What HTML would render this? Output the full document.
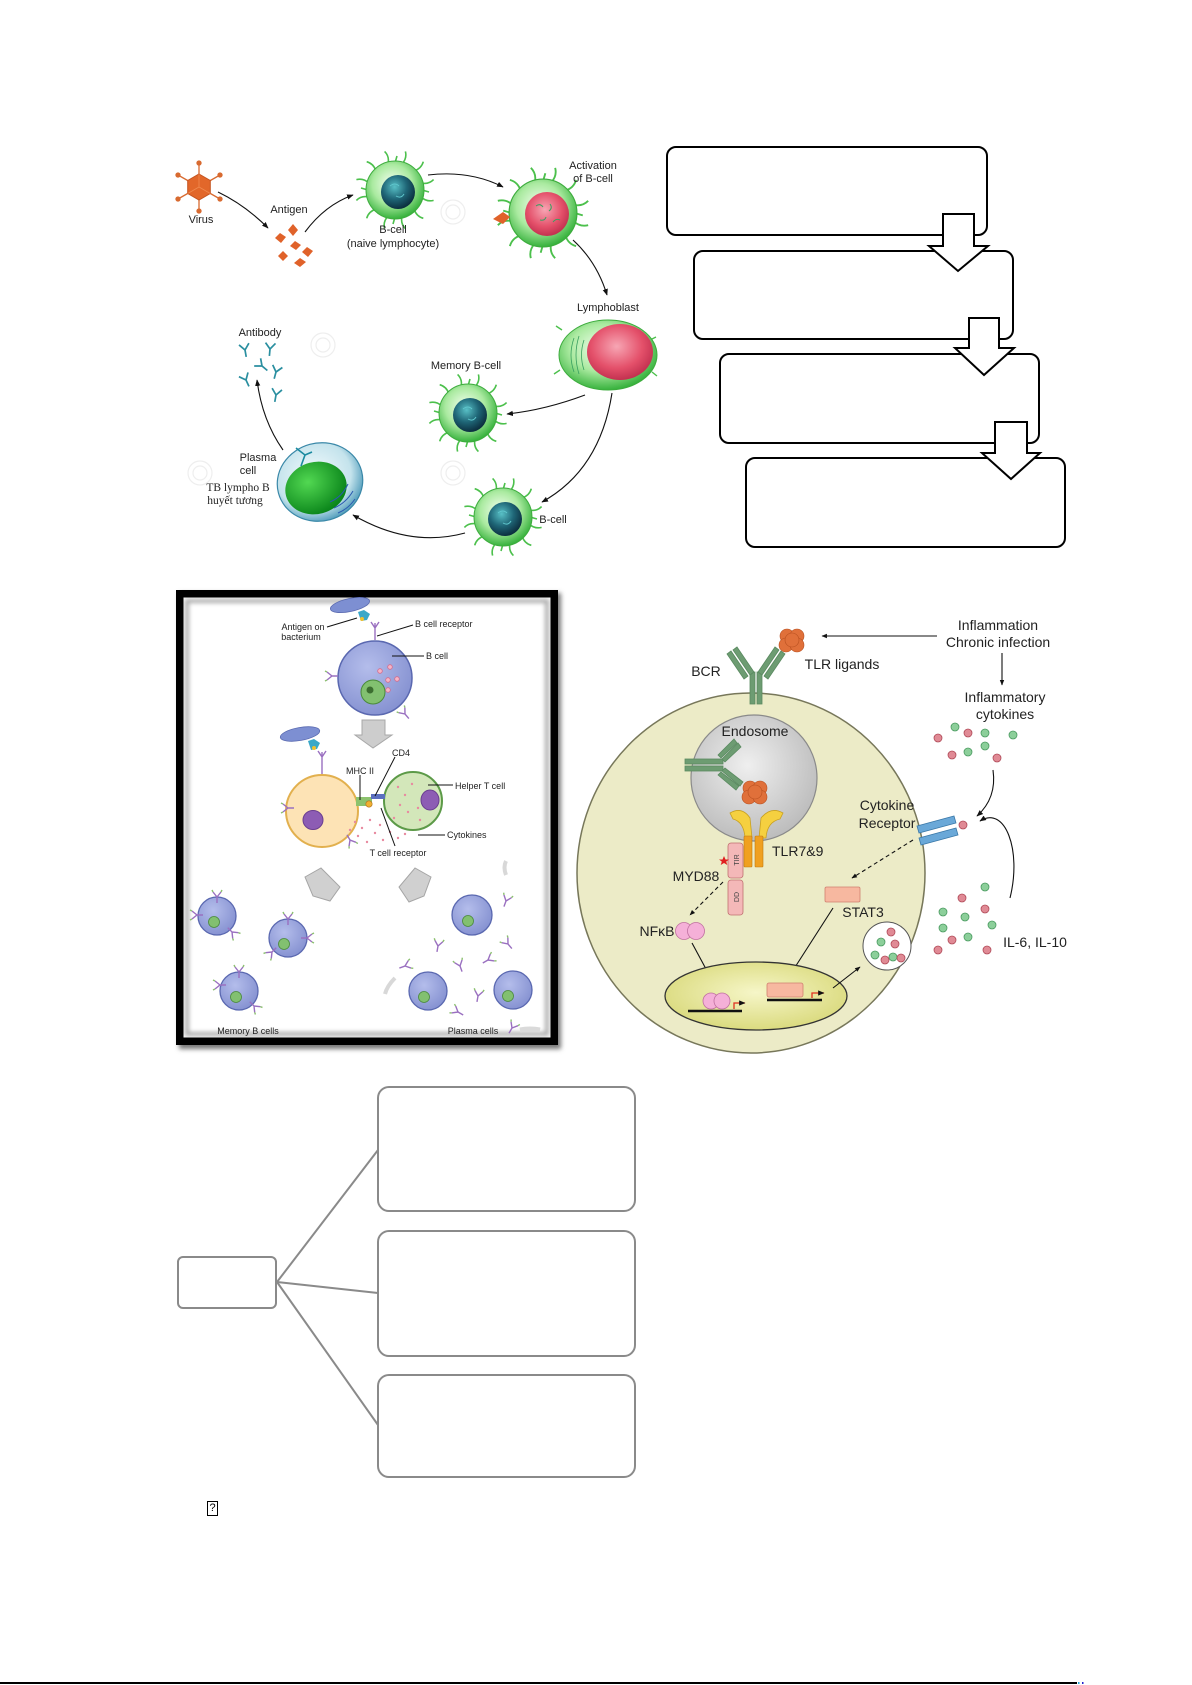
<!DOCTYPE html>
<html>
<head>
<meta charset="utf-8">
<style>
  html,body{margin:0;padding:0;background:#fff;}
  body{width:1192px;height:1685px;position:relative;overflow:hidden;}
  svg{position:absolute;left:0;top:0;}
  .lb{font-family:"Liberation Sans",Arial,sans-serif;font-size:11px;fill:#222;}
  .sf{font-family:"Liberation Serif","Times New Roman",serif;font-size:11.5px;fill:#222;}
  .ml{font-family:"Liberation Sans",Arial,sans-serif;font-size:9px;fill:#222;}
  .rl{font-family:"Liberation Sans",Arial,sans-serif;font-size:14px;fill:#222;}
  .qm{position:absolute;left:207px;top:1501px;width:9px;height:13px;border:1px solid #000;font-family:"Liberation Sans",Arial,sans-serif;font-size:11px;line-height:13px;text-align:center;color:#000;}
</style>
</head>
<body>
<svg width="1192" height="1685" viewBox="0 0 1192 1685" xmlns="http://www.w3.org/2000/svg">
<defs>
  <radialGradient id="gc" cx="45%" cy="40%" r="62%">
    <stop offset="0" stop-color="#f6fff2"/>
    <stop offset="0.55" stop-color="#aaeaa0"/>
    <stop offset="1" stop-color="#2fae36"/>
  </radialGradient>
  <radialGradient id="nuc" cx="40%" cy="35%" r="65%">
    <stop offset="0" stop-color="#58c0c6"/>
    <stop offset="0.55" stop-color="#1f6677"/>
    <stop offset="1" stop-color="#0c3040"/>
  </radialGradient>
  <radialGradient id="red" cx="45%" cy="40%" r="65%">
    <stop offset="0" stop-color="#f7a6b4"/>
    <stop offset="0.6" stop-color="#e4506a"/>
    <stop offset="1" stop-color="#bb2a4a"/>
  </radialGradient>
  <radialGradient id="pl" cx="45%" cy="40%" r="62%">
    <stop offset="0" stop-color="#f4fbfd"/>
    <stop offset="0.7" stop-color="#c4e3ec"/>
    <stop offset="1" stop-color="#4a98b8"/>
  </radialGradient>
  <radialGradient id="gn" cx="40%" cy="35%" r="65%">
    <stop offset="0" stop-color="#52d852"/>
    <stop offset="1" stop-color="#0b861b"/>
  </radialGradient>
  <radialGradient id="bc" cx="40%" cy="35%" r="65%">
    <stop offset="0" stop-color="#b4bdeb"/>
    <stop offset="1" stop-color="#8793d2"/>
  </radialGradient>
  <radialGradient id="endo" cx="45%" cy="40%" r="60%">
    <stop offset="0" stop-color="#efefef"/>
    <stop offset="1" stop-color="#bdbdbd"/>
  </radialGradient>
  <radialGradient id="nucl" cx="50%" cy="45%" r="60%">
    <stop offset="0" stop-color="#f6f6c8"/>
    <stop offset="1" stop-color="#d8d878"/>
  </radialGradient>
  <filter id="blur3" x="-10%" y="-10%" width="120%" height="120%"><feGaussianBlur stdDeviation="2.5"/></filter>
  <filter id="blur2" x="-10%" y="-10%" width="120%" height="120%"><feGaussianBlur stdDeviation="2"/></filter>
  <marker id="ah" viewBox="0 0 10 10" refX="9" refY="5" markerWidth="6" markerHeight="6" orient="auto">
    <path d="M0,1 L10,5 L0,9 z" fill="#111"/>
  </marker>
  <marker id="ah2" viewBox="0 0 10 10" refX="9" refY="5" markerWidth="5" markerHeight="5" orient="auto">
    <path d="M0,1 L10,5 L0,9 z" fill="#111"/>
  </marker>
  <g id="spk">
    <path d="M26.1,7 Q31.7,12.2 38.6,10.4 M19.1,19.1 Q21.4,26.4 28.3,28.3 M7,26.1 Q5.3,33.6 10.4,38.6 M-7,26.1 Q-12.2,31.7 -10.4,38.6 M-19.1,19.1 Q-26.4,21.4 -28.3,28.3 M-26.1,7 Q-33.6,5.3 -38.6,10.4 M-26.1,-7 Q-31.7,-12.2 -38.6,-10.4 M-19.1,-19.1 Q-21.4,-26.4 -28.3,-28.3 M-7,-26.1 Q-5.3,-33.6 -10.4,-38.6 M7,-26.1 Q12.2,-31.7 10.4,-38.6 M19.1,-19.1 Q26.4,-21.4 28.3,-28.3 M26.1,-7 Q33.6,-5.3 38.6,-10.4 M27,0 L34,2 M0,27 L-2,34 M-27,0 L-34,-2 M0,-27 L2,-34" stroke="#4cc04c" stroke-width="1.6" fill="none"/>
    <circle r="29" fill="url(#gc)" stroke="#3dac3d" stroke-width="1"/>
  </g>
  <g id="ysm">
    <path d="M0,6 L0,0 L-4,-5 M0,0 L4,-5" stroke="#9a70c0" stroke-width="1.4" fill="none"/>
    <path d="M-4,-5 L-5,-7 M4,-5 L5,-7" stroke="#8cc070" stroke-width="1.4" fill="none"/>
  </g>
  <g id="ab">
    <path d="M0,7 L0,0 L-5,-6 M0,0 L5,-6" stroke="#2a8fa0" stroke-width="1.7" fill="none"/>
  </g>
</defs>

<!-- ================= TOP LEFT ILLUSTRATION ================= -->
<!-- faint watermarks -->
<g stroke="#eeeeee" stroke-width="1.2" fill="none">
  <circle cx="200" cy="473" r="12"/><circle cx="200" cy="473" r="7"/>
  <circle cx="323" cy="345" r="12"/><circle cx="323" cy="345" r="7"/>
  <circle cx="453" cy="212" r="12"/><circle cx="453" cy="212" r="7"/>
  <circle cx="453" cy="473" r="12"/><circle cx="453" cy="473" r="7"/>
</g>

<!-- virus -->
<g stroke="#d86a30" stroke-width="1.3" fill="#d86a30">
  <line x1="199" y1="187" x2="199" y2="163"/>
  <line x1="199" y1="187" x2="220" y2="175"/>
  <line x1="199" y1="187" x2="220" y2="199"/>
  <line x1="199" y1="187" x2="199" y2="211"/>
  <line x1="199" y1="187" x2="178" y2="199"/>
  <line x1="199" y1="187" x2="178" y2="175"/>
  <circle cx="199" cy="163" r="2"/><circle cx="220" cy="175" r="2"/><circle cx="220" cy="199" r="2"/>
  <circle cx="199" cy="211" r="2"/><circle cx="178" cy="199" r="2"/><circle cx="178" cy="175" r="2"/>
</g>
<polygon points="199,174 210.3,180.5 210.3,193.5 199,200 187.7,193.5 187.7,180.5" fill="#e2672a" stroke="#c55420" stroke-width="1"/>
<path d="M199,174 L199,187 L210.3,193.5 M199,187 L187.7,193.5" stroke="#f08a50" stroke-width="0.8" fill="none"/>
<text class="lb" x="201" y="223" text-anchor="middle">Virus</text>

<!-- antigen diamonds -->
<g fill="#e0622a">
  <polygon points="293,224 298,230 293,236 288,230"/>
  <polygon points="280,233 286,237 281,243 275,238"/>
  <polygon points="295,241 301,245 296,250 290,246"/>
  <polygon points="307,247 313,251 308,257 302,252"/>
  <polygon points="283,251 288,256 283,261 278,256"/>
  <polygon points="300,258 306,262 300,267 294,263"/>
</g>
<text class="lb" x="289" y="213" text-anchor="middle">Antigen</text>

<!-- arrows top illustration -->
<g stroke="#111" stroke-width="1.1" fill="none" marker-end="url(#ah)">
  <path d="M218,192 Q245,205 268,228"/>
  <path d="M305,232 Q325,205 353,195"/>
  <path d="M428,175 Q470,170 503,187"/>
  <path d="M573,240 Q597,262 607,295"/>
  <path d="M585,395 Q545,410 507,414"/>
  <path d="M612,393 Q600,470 542,502"/>
  <path d="M465,533 Q410,548 353,515"/>
  <path d="M283,450 Q262,420 257,380"/>
</g>

<!-- naive B-cell -->
<use href="#spk" transform="translate(395,190)"/>
<circle cx="398" cy="192" r="17" fill="url(#nuc)"/>
<path d="M390,186 q5,-4 9,0 M396,196 q5,3 8,-2" stroke="#5fc6cc" stroke-width="1" fill="none"/>
<text class="lb" x="393" y="233" text-anchor="middle">B-cell</text>
<text class="lb" x="393" y="247" text-anchor="middle">(naive lymphocyte)</text>

<!-- activated B-cell -->
<use href="#spk" transform="translate(543,213) scale(1.17)"/>
<circle cx="547" cy="214" r="22" fill="url(#red)"/>
<path d="M536,206 q4,-3 7,1 M550,204 q3,4 -1,7 M540,220 q5,1 6,-3 M553,222 q3,-4 7,-2" stroke="#3aa060" stroke-width="1" fill="none"/>
<polygon points="493,219 503,212 510,217 503,224" fill="#e0622a"/>
<text class="lb" x="593" y="169" text-anchor="middle">Activation</text>
<text class="lb" x="593" y="182" text-anchor="middle">of B-cell</text>

<!-- lymphoblast -->
<g stroke="#4cc04c" stroke-width="1.4" fill="none">
  <path d="M562,330 l-6,-4 M560,370 l-6,4 M650,340 l6,-3 M652,372 l5,4"/>
</g>
<ellipse cx="608" cy="355" rx="49" ry="35" fill="url(#gc)" stroke="#3dac3d" stroke-width="1"/>
<ellipse cx="620" cy="352" rx="33" ry="28" fill="url(#red)"/>
<path d="M574,338 q-6,17 0,34 M579,336 q-6,19 0,38 M584,340 q-5,15 0,30" stroke="#3aa060" stroke-width="0.8" fill="none"/>
<text class="lb" x="608" y="311" text-anchor="middle">Lymphoblast</text>

<!-- memory B-cell -->
<use href="#spk" transform="translate(468,413)"/>
<circle cx="470" cy="415" r="17" fill="url(#nuc)"/>
<path d="M463,409 q5,-4 9,0 M468,419 q5,3 8,-2" stroke="#5fc6cc" stroke-width="1" fill="none"/>
<text class="lb" x="466" y="369" text-anchor="middle">Memory B-cell</text>

<!-- bottom B-cell -->
<use href="#spk" transform="translate(503,517)"/>
<circle cx="505" cy="519" r="17" fill="url(#nuc)"/>
<path d="M498,513 q5,-4 9,0 M503,523 q5,3 8,-2" stroke="#5fc6cc" stroke-width="1" fill="none"/>
<text class="lb" x="553" y="523" text-anchor="middle">B-cell</text>

<!-- plasma cell -->
<ellipse cx="320" cy="482" rx="43" ry="39" fill="url(#pl)" stroke="#3a88a8" stroke-width="1.2" transform="rotate(-15 320 482)"/>
<ellipse cx="316" cy="488" rx="31" ry="26" fill="url(#gn)" transform="rotate(-15 316 488)"/>
<path d="M330,502 q12,-5 18,-18 M334,508 q12,-5 19,-17 M338,513 q10,-4 17,-14" stroke="#2a5ab0" stroke-width="1" fill="none"/>
<path d="M296,448 L305,455 L301,466 M305,455 L312,452" stroke="#1a8aa0" stroke-width="1.6" fill="none"/>
<text class="lb" x="258" y="461" text-anchor="middle">Plasma</text>
<text class="lb" x="248" y="474" text-anchor="middle">cell</text>
<text class="sf" x="238" y="491" text-anchor="middle">TB lympho B</text>
<text class="sf" x="235" y="504" text-anchor="middle">huyết tương</text>

<!-- antibodies -->
<use href="#ab" transform="translate(245,350) rotate(-10)"/>
<use href="#ab" transform="translate(270,349) rotate(5)"/>
<use href="#ab" transform="translate(262,366) rotate(-50)"/>
<use href="#ab" transform="translate(276,372) rotate(15)"/>
<use href="#ab" transform="translate(246,380) rotate(-25)"/>
<use href="#ab" transform="translate(276,395) rotate(10)"/>
<text class="lb" x="260" y="336" text-anchor="middle">Antibody</text>

<!-- ================= TOP RIGHT FLOW BOXES ================= -->
<g fill="#fff" stroke="#000" stroke-width="2">
  <rect x="667" y="147" width="320" height="88" rx="9"/>
  <rect x="694" y="251" width="319" height="88" rx="9"/>
  <rect x="720" y="354" width="319" height="89" rx="9"/>
  <rect x="746" y="458" width="319" height="89" rx="9"/>
  <polygon points="943,214 974,214 974,246 988,246 958,271 929,246 943,246"/>
  <polygon points="969,318 999,318 999,348 1014,348 984,375 955,348 969,348"/>
  <polygon points="995,422 1027,422 1027,453 1040,453 1011,479 982,453 995,453"/>
</g>

<!-- ================= MIDDLE LEFT FRAMED PANEL ================= -->
<rect x="179" y="593" width="382" height="456" fill="#777" filter="url(#blur3)"/>
<rect x="179.75" y="593.75" width="374.5" height="447.5" fill="#fff"/>
<rect x="187" y="601" width="360" height="433" fill="none" stroke="#aaa" stroke-width="4" filter="url(#blur2)"/>
<rect x="179.75" y="593.75" width="374.5" height="447.5" fill="none" stroke="#000" stroke-width="7.5"/>

<!-- bacterium 1 -->
<ellipse cx="350" cy="605" rx="20" ry="6.5" fill="#7d8fd2" stroke="#5a6ab0" stroke-width="0.8" transform="rotate(-12 350 605)"/>
<path d="M358,612 l6,-2 l6,4 l-3,6 l-6,1 z" fill="#3aa8c8"/>
<circle cx="362" cy="619" r="2" fill="#f0c030"/>
<path d="M375,623 L375,640 M375,628 l-4,-6 M375,628 l4,-6" stroke="#9a70c0" stroke-width="1.4" fill="none"/>
<line x1="327" y1="627" x2="357" y2="618" stroke="#111" stroke-width="1"/>
<line x1="377" y1="636" x2="413" y2="625" stroke="#111" stroke-width="1"/>
<text class="ml" x="303" y="630" text-anchor="middle">Antigen on</text>
<text class="ml" x="301" y="640" text-anchor="middle">bacterium</text>
<text class="ml" x="415" y="627">B cell receptor</text>

<!-- B cell -->
<circle cx="375" cy="678" r="37" fill="url(#bc)" stroke="#5a68b0" stroke-width="1.5"/>
<circle cx="373" cy="692" r="12" fill="#82c070" stroke="#4a8a3a" stroke-width="1"/>
<circle cx="370" cy="690" r="3.5" fill="#3c6e30"/>
<g fill="#f4b6c8" stroke="#d66a8a" stroke-width="0.8">
  <circle cx="380" cy="671" r="2.3"/><circle cx="390" cy="667" r="2.3"/><circle cx="388" cy="680" r="2.3"/>
  <circle cx="397" cy="679" r="2.3"/><circle cx="388" cy="690" r="2.3"/>
</g>
<use href="#ysm" transform="translate(332,676) rotate(-90)"/>
<use href="#ysm" transform="translate(405,714) rotate(-40)"/>
<line x1="392" y1="656" x2="424" y2="656" stroke="#111" stroke-width="1"/>
<text class="ml" x="426" y="659">B cell</text>

<!-- gray down arrow -->
<polygon points="362,720 385,720 385,735 392,735 373,748 355,735 362,735" fill="#cdcdcd" stroke="#a8a8a8" stroke-width="1"/>

<!-- bacterium 2 -->
<ellipse cx="300" cy="734" rx="20" ry="6.5" fill="#7d8fd2" stroke="#5a6ab0" stroke-width="0.8" transform="rotate(-10 300 734)"/>
<path d="M308,741 l6,-2 l6,4 l-3,6 l-6,1 z" fill="#3aa8c8"/>
<circle cx="314" cy="748" r="2" fill="#f0c030"/>
<path d="M322,752 L322,774 M322,757 l-4,-6 M322,757 l4,-6" stroke="#9a70c0" stroke-width="1.4" fill="none"/>

<!-- orange B cell & helper T -->
<circle cx="322" cy="811" r="36" fill="#fde3b5" stroke="#e2b04e" stroke-width="2"/>
<ellipse cx="313" cy="820" rx="10" ry="9.5" fill="#8d5cb4" stroke="#6a3e90" stroke-width="1"/>
<circle cx="413" cy="801" r="29" fill="#d3e7ba" stroke="#5c9a48" stroke-width="2"/>
<ellipse cx="430" cy="800" rx="9" ry="10" fill="#8d5cb4" stroke="#6a3e90" stroke-width="1"/>
<rect x="356" y="797" width="16" height="9" fill="#8cc26e"/>
<rect x="371" y="794" width="14" height="5" fill="#5b6fc0"/>
<circle cx="369" cy="804" r="3.2" fill="#f0b030" stroke="#b07020" stroke-width="0.6"/>
<use href="#ysm" transform="translate(288,808) rotate(-90)"/>
<use href="#ysm" transform="translate(350,840) rotate(150)"/>
<g fill="#e88aa0">
  <circle cx="398" cy="787" r="1.2"/><circle cx="405" cy="795" r="1.2"/><circle cx="412" cy="784" r="1.2"/>
  <circle cx="418" cy="808" r="1.2"/><circle cx="408" cy="812" r="1.2"/><circle cx="400" cy="805" r="1.2"/>
  <circle cx="394" cy="818" r="1.2"/><circle cx="420" cy="820" r="1.2"/>
  <circle cx="355" cy="822" r="1.2"/><circle cx="362" cy="828" r="1.2"/><circle cx="370" cy="820" r="1.2"/>
  <circle cx="358" cy="836" r="1.2"/><circle cx="367" cy="842" r="1.2"/><circle cx="375" cy="833" r="1.2"/>
  <circle cx="383" cy="840" r="1.2"/><circle cx="380" cy="825" r="1.2"/><circle cx="390" cy="832" r="1.2"/>
  <circle cx="350" cy="830" r="1.2"/><circle cx="398" cy="838" r="1.2"/><circle cx="405" cy="834" r="1.2"/>
</g>
<g stroke="#111" stroke-width="1" fill="none">
  <line x1="360" y1="775" x2="360" y2="800"/>
  <line x1="395" y1="757" x2="375" y2="796"/>
  <line x1="381" y1="808" x2="395" y2="846"/>
  <line x1="428" y1="785" x2="453" y2="785"/>
  <line x1="418" y1="835" x2="445" y2="835"/>
</g>
<text class="ml" x="401" y="756" text-anchor="middle">CD4</text>
<text class="ml" x="360" y="774" text-anchor="middle">MHC II</text>
<text class="ml" x="455" y="789">Helper T cell</text>
<text class="ml" x="447" y="838">Cytokines</text>
<text class="ml" x="398" y="856" text-anchor="middle">T cell receptor</text>

<!-- gray side arrows -->
<polygon points="305,877 321,868 340,887 330,901 313,896" fill="#d0d0d0" stroke="#a5a5a5" stroke-width="1"/>
<polygon points="431,877 415,868 399,887 409,902 424,896" fill="#d0d0d0" stroke="#a5a5a5" stroke-width="1"/>
<path d="M506,875 q-3,-8 0,-14" stroke="#d8d8d8" stroke-width="4" fill="none"/>
<path d="M395,978 q-8,8 -10,16" stroke="#d8d8d8" stroke-width="4" fill="none"/>
<path d="M520,1030 q10,-2 20,0" stroke="#dadada" stroke-width="5" fill="none"/>

<!-- memory B cells -->
<g fill="url(#bc)" stroke="#5a68b0" stroke-width="1.3">
  <circle cx="217" cy="916" r="19"/><circle cx="288" cy="938" r="19"/><circle cx="239" cy="991" r="19"/>
  <circle cx="472" cy="915" r="20"/><circle cx="428" cy="991" r="19"/><circle cx="513" cy="990" r="19"/>
</g>
<g fill="#82c070" stroke="#4a8a3a" stroke-width="0.8">
  <circle cx="214" cy="922" r="5.5"/><circle cx="284" cy="944" r="5.5"/><circle cx="236" cy="997" r="5.5"/>
  <circle cx="468" cy="921" r="5.5"/><circle cx="424" cy="997" r="5.5"/><circle cx="508" cy="996" r="5.5"/>
</g>
<use href="#ysm" transform="translate(217,897)"/>
<use href="#ysm" transform="translate(197,915) rotate(-90)"/>
<use href="#ysm" transform="translate(232,932) rotate(135)"/>
<use href="#ysm" transform="translate(288,919)"/>
<use href="#ysm" transform="translate(307,938) rotate(90)"/>
<use href="#ysm" transform="translate(272,952) rotate(-135)"/>
<use href="#ysm" transform="translate(239,972)"/>
<use href="#ysm" transform="translate(220,985) rotate(-90)"/>
<use href="#ysm" transform="translate(254,1006) rotate(135)"/>
<use href="#ysm" transform="translate(506,901) rotate(20)"/>
<use href="#ysm" transform="translate(438,946) rotate(10)"/>
<use href="#ysm" transform="translate(508,944) rotate(-40)"/>
<use href="#ysm" transform="translate(488,960) rotate(60)"/>
<use href="#ysm" transform="translate(460,966) rotate(-20)"/>
<use href="#ysm" transform="translate(405,966) rotate(70)"/>
<use href="#ysm" transform="translate(478,996) rotate(10)"/>
<use href="#ysm" transform="translate(458,1012) rotate(-60)"/>
<use href="#ysm" transform="translate(512,1028) rotate(30)"/>
<text class="ml" x="248" y="1034" text-anchor="middle">Memory B cells</text>
<text class="ml" x="473" y="1034" text-anchor="middle">Plasma cells</text>

<!-- ================= MIDDLE RIGHT CELL DIAGRAM ================= -->
<ellipse cx="751" cy="873" rx="174" ry="180" fill="#ecebc7" stroke="#77775a" stroke-width="1.5"/>

<!-- BCR -->
<g stroke="#5a8a60" stroke-width="0.8" fill="#6d9c72">
  <rect x="750" y="672" width="5" height="32"/>
  <rect x="757" y="672" width="5" height="32"/>
  <polygon points="750,675 733,650 737,647 754,672"/>
  <polygon points="744,679 727,654 731,651 748,676"/>
  <polygon points="762,675 779,650 775,647 758,672"/>
  <polygon points="768,679 785,654 781,651 764,676"/>
</g>
<g fill="#e0703a" stroke="#b85020" stroke-width="0.6">
  <circle cx="787" cy="636" r="7"/><circle cx="797" cy="636" r="7"/>
  <circle cx="786" cy="645" r="7"/><circle cx="797" cy="645" r="7"/>
  <circle cx="792" cy="640" r="7"/>
</g>
<line x1="937" y1="636" x2="822" y2="636" stroke="#111" stroke-width="1.1" marker-end="url(#ah2)"/>
<line x1="1002" y1="653" x2="1002" y2="685" stroke="#111" stroke-width="1.1" marker-end="url(#ah2)"/>
<text class="rl" x="706" y="676" text-anchor="middle">BCR</text>
<text class="rl" x="842" y="669" text-anchor="middle">TLR ligands</text>
<text class="rl" x="998" y="630" text-anchor="middle">Inflammation</text>
<text class="rl" x="998" y="647" text-anchor="middle">Chronic infection</text>
<text class="rl" x="1005" y="702" text-anchor="middle">Inflammatory</text>
<text class="rl" x="1005" y="719" text-anchor="middle">cytokines</text>

<!-- inflammatory cytokine dots -->
<g stroke-width="0.8">
  <g fill="#8ccf9a" stroke="#4a9a60">
    <circle cx="955" cy="727" r="4"/><circle cx="985" cy="733" r="4"/><circle cx="1013" cy="735" r="4"/>
    <circle cx="968" cy="752" r="4"/><circle cx="985" cy="746" r="4"/>
  </g>
  <g fill="#e08a95" stroke="#b04a58">
    <circle cx="938" cy="738" r="4"/><circle cx="968" cy="733" r="4"/><circle cx="952" cy="755" r="4"/><circle cx="997" cy="758" r="4"/>
  </g>
</g>

<!-- endosome -->
<circle cx="754" cy="778" r="63" fill="url(#endo)" stroke="#8a8a8a" stroke-width="1.2"/>
<text class="rl" x="755" y="736" text-anchor="middle">Endosome</text>
<g stroke="#5a8a60" stroke-width="0.8" fill="#6d9c72">
  <rect x="685" y="759" width="38" height="5"/>
  <rect x="685" y="766" width="38" height="5"/>
  <polygon points="722,759 738,743 741,747 725,762"/>
  <polygon points="718,755 734,739 737,743 721,758"/>
  <polygon points="722,771 740,786 743,782 725,768"/>
  <polygon points="718,775 736,790 739,786 721,772"/>
</g>
<g fill="#e0703a" stroke="#b85020" stroke-width="0.6">
  <circle cx="750" cy="788" r="7"/><circle cx="760" cy="788" r="7"/>
  <circle cx="749" cy="797" r="7"/><circle cx="760" cy="797" r="7"/>
  <circle cx="755" cy="792" r="7"/>
</g>
<!-- TLR yellow -->
<path d="M730,813 Q742,806 750,818 L752,838 L745,838 Q744,822 733,819 Z" fill="#f5d040" stroke="#c8a020" stroke-width="0.8"/>
<path d="M783,813 Q771,806 761,818 L759,838 L766,838 Q767,822 780,819 Z" fill="#f5d040" stroke="#c8a020" stroke-width="0.8"/>
<rect x="744" y="836" width="8" height="31" rx="1" fill="#f0a020" stroke="#c07a10" stroke-width="0.6"/>
<rect x="755" y="836" width="8" height="31" rx="1" fill="#f0a020" stroke="#c07a10" stroke-width="0.6"/>
<text class="rl" x="772" y="856">TLR7&amp;9</text>

<!-- MYD88 -->
<rect x="728" y="843" width="15" height="35" rx="3" fill="#f4b8b8" stroke="#c07070" stroke-width="0.8"/>
<rect x="728" y="880" width="15" height="35" rx="3" fill="#f4b8b8" stroke="#c07070" stroke-width="0.8"/>
<text x="739" y="860" transform="rotate(-90 739 860)" text-anchor="middle" style="font-family:'Liberation Sans',sans-serif;font-size:7px;fill:#444">TIR</text>
<text x="739" y="897" transform="rotate(-90 739 897)" text-anchor="middle" style="font-family:'Liberation Sans',sans-serif;font-size:7px;fill:#444">DD</text>
<polygon points="724,856 725.5,859.5 729,859.5 726.2,861.6 727.3,865 724,863 720.7,865 721.8,861.6 719,859.5 722.5,859.5" fill="#e02020"/>
<text class="rl" x="696" y="881" text-anchor="middle">MYD88</text>
<line x1="723" y1="882" x2="690" y2="915" stroke="#111" stroke-width="1.1" stroke-dasharray="4,3" marker-end="url(#ah2)"/>

<!-- NFkB -->
<text class="rl" x="657" y="936" text-anchor="middle">NFκB</text>
<circle cx="684" cy="931" r="8.5" fill="#f5b0d8" stroke="#c070a0" stroke-width="0.8"/>
<circle cx="696" cy="931" r="8.5" fill="#f5b0d8" stroke="#c070a0" stroke-width="0.8"/>
<line x1="692" y1="943" x2="713" y2="982" stroke="#111" stroke-width="1.1" marker-end="url(#ah2)"/>

<!-- cytokine receptor -->
<polygon points="917,826 954,816 956,823 919,833" fill="#6aa8d8" stroke="#3a78a8" stroke-width="0.8"/>
<polygon points="919,838 956,828 958,835 921,845" fill="#6aa8d8" stroke="#3a78a8" stroke-width="0.8"/>
<circle cx="963" cy="825" r="4" fill="#e08a95" stroke="#b04a58" stroke-width="0.8"/>
<text class="rl" x="887" y="810" text-anchor="middle">Cytokine</text>
<text class="rl" x="887" y="828" text-anchor="middle">Receptor</text>
<line x1="913" y1="840" x2="852" y2="878" stroke="#111" stroke-width="1.1" stroke-dasharray="4,3" marker-end="url(#ah2)"/>
<path d="M993,770 Q997,798 977,816" stroke="#111" stroke-width="1.1" fill="none" marker-end="url(#ah)"/>
<path d="M1010,898 C1022,850 1005,805 980,821" stroke="#111" stroke-width="1.1" fill="none" marker-end="url(#ah)"/>

<!-- STAT3 -->
<rect x="825" y="887" width="35" height="15" rx="1.5" fill="#f7b8a0" stroke="#d08070" stroke-width="0.8"/>
<text class="rl" x="863" y="917" text-anchor="middle">STAT3</text>
<line x1="833" y1="908" x2="790" y2="975" stroke="#111" stroke-width="1.1" marker-end="url(#ah2)"/>

<!-- nucleus -->
<ellipse cx="756" cy="996" rx="91" ry="34" fill="url(#nucl)" stroke="#333" stroke-width="1.3"/>
<circle cx="711" cy="1001" r="8" fill="#f5b0d8" stroke="#c070a0" stroke-width="0.8"/>
<circle cx="722" cy="1001" r="8" fill="#f5b0d8" stroke="#c070a0" stroke-width="0.8"/>
<line x1="688" y1="1011" x2="742" y2="1011" stroke="#111" stroke-width="2.5"/>
<path d="M734,1009 L734,1003 L745,1003" stroke="#e03020" stroke-width="1.3" fill="none" marker-end="url(#ah2)"/>
<rect x="767" y="983" width="36" height="14" rx="2" fill="#f7b8a0" stroke="#d08070" stroke-width="0.8"/>
<line x1="767" y1="1000" x2="822" y2="1000" stroke="#111" stroke-width="2.5"/>
<path d="M812,998 L812,993 L824,993" stroke="#e03020" stroke-width="1.3" fill="none" marker-end="url(#ah2)"/>
<line x1="833" y1="988" x2="860" y2="967" stroke="#111" stroke-width="1.1" marker-end="url(#ah2)"/>

<!-- vesicle -->
<circle cx="887" cy="946" r="24" fill="#fff" stroke="#555" stroke-width="1"/>
<g stroke-width="0.8">
  <g fill="#8ccf9a" stroke="#4a9a60"><circle cx="881" cy="942" r="4"/><circle cx="875" cy="955" r="4"/><circle cx="893" cy="957" r="4"/></g>
  <g fill="#e08a95" stroke="#b04a58"><circle cx="891" cy="932" r="4"/><circle cx="895" cy="944" r="4"/><circle cx="885" cy="960" r="4"/><circle cx="901" cy="958" r="4"/></g>
</g>

<!-- IL dots -->
<g stroke-width="0.8">
  <g fill="#8ccf9a" stroke="#4a9a60">
    <circle cx="985" cy="887" r="4"/><circle cx="943" cy="912" r="4"/><circle cx="965" cy="917" r="4"/>
    <circle cx="992" cy="925" r="4"/><circle cx="943" cy="928" r="4"/><circle cx="968" cy="937" r="4"/>
  </g>
  <g fill="#e08a95" stroke="#b04a58">
    <circle cx="962" cy="898" r="4"/><circle cx="985" cy="909" r="4"/><circle cx="952" cy="940" r="4"/>
    <circle cx="987" cy="950" r="4"/><circle cx="938" cy="950" r="4"/>
  </g>
</g>
<text class="rl" x="1035" y="947" text-anchor="middle">IL-6, IL-10</text>

<!-- ================= BOTTOM TREE ================= -->
<g stroke="#8a8a8a" stroke-width="2" fill="none">
  <line x1="277" y1="1282" x2="378" y2="1150"/>
  <line x1="277" y1="1282" x2="378" y2="1293"/>
  <line x1="277" y1="1282" x2="378" y2="1425"/>
</g>
<g stroke="#8a8a8a" stroke-width="2" fill="#fff">
  <rect x="178" y="1257" width="98" height="51" rx="5"/>
  <rect x="378" y="1087" width="257" height="124" rx="11"/>
  <rect x="378" y="1231" width="257" height="125" rx="11"/>
  <rect x="378" y="1375" width="257" height="102" rx="11"/>
</g>

<!-- bottom rule -->
<line x1="0" y1="1683" x2="1077" y2="1683" stroke="#000" stroke-width="2"/>
<rect x="1078" y="1682" width="1.5" height="2" fill="#2ad"/>
<rect x="1082" y="1682" width="1.5" height="2" fill="#22c"/>
</svg>
<div class="qm">?</div>
</body>
</html>
